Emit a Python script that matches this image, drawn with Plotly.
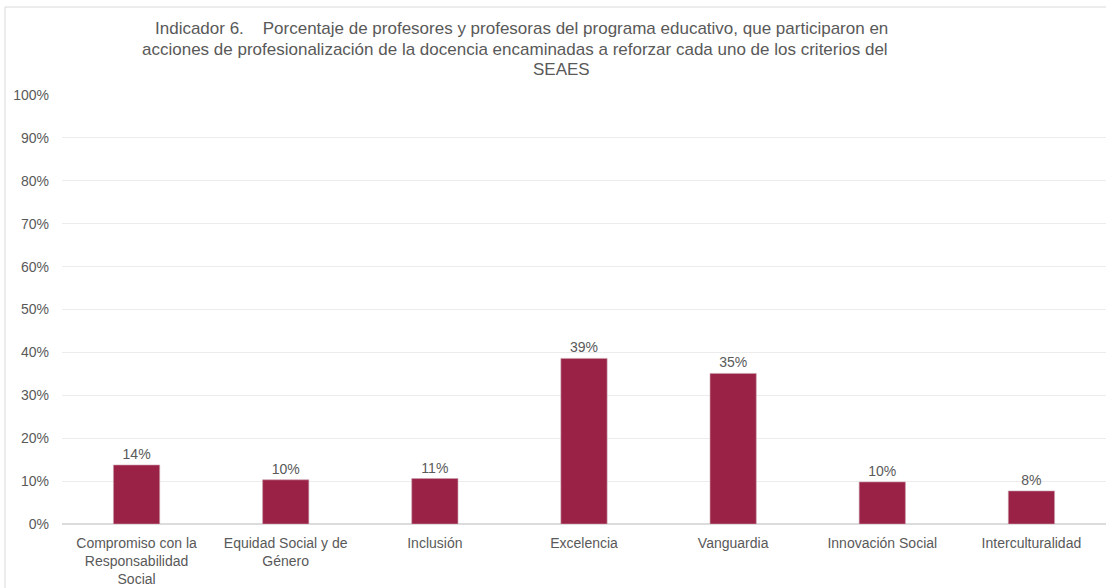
import plotly.graph_objects as go

# Indicador 6 - porcentaje de profesores por criterio SEAES
categorias = [
    "Compromiso con la<br>Responsabilidad<br>Social",
    "Equidad Social y de<br>Género",
    "Inclusión",
    "Excelencia",
    "Vanguardia",
    "Innovación Social",
    "Interculturalidad",
]
porcentajes = [0.1375, 0.103, 0.106, 0.386, 0.351, 0.098, 0.077]
ticks_y = [0, 0.1, 0.2, 0.3, 0.4, 0.5, 0.6, 0.7, 0.8, 0.9, 1.0]

titulo_lineas = [
    "Indicador 6.    Porcentaje de profesores y profesoras del programa educativo, que participaron en",
    "acciones de profesionalización de la docencia encaminadas a reforzar cada uno de los criterios del",
    "SEAES",
]

W, H = 1106, 588
L, R, T, B = 62, 0, 95, 64
gris = "#595959"

fig = go.Figure(
    go.Bar(
        x=categorias, y=porcentajes,
        marker=dict(color="#9b2247", line=dict(color="#c9a0ad", width=0.6)),
        width=0.31,
        text=porcentajes, texttemplate="%{y:.0%}", textposition="outside",
        textfont=dict(size=14, color=gris), cliponaxis=False,
    )
)


def px_x(v):
    return (v - L) / (W - L - R)


def px_y(v):
    return 1 - (v - T) / (H - T - B)


# titulo en tres lineas, como en el original
for linea, cx, cy in zip(titulo_lineas, [521, 515, 561], [28, 49, 69.5]):
    fig.add_annotation(text=linea, x=px_x(cx), y=px_y(cy), xref="paper", yref="paper",
                       xanchor="center", yanchor="middle", showarrow=False,
                       font=dict(size=17, color=gris))

# borde del grafico
fig.add_shape(type="line", xref="paper", yref="paper", x0=px_x(5), x1=px_x(1106),
              y0=px_y(7), y1=px_y(7), line=dict(color="#d9d9d9", width=1))
fig.add_shape(type="line", xref="paper", yref="paper", x0=px_x(5), x1=px_x(5),
              y0=px_y(7), y1=px_y(588), line=dict(color="#d9d9d9", width=1))

fig.update_layout(
    width=W, height=H,
    margin=dict(l=L, r=R, t=T, b=B),
    plot_bgcolor="white", paper_bgcolor="white",
    font=dict(family="Liberation Sans, Arial, sans-serif", size=14, color=gris),
    showlegend=False,
)
fig.update_yaxes(range=[0, 1], tickvals=ticks_y, tickformat=".0%", showgrid=True,
                 gridcolor="#ececec", gridwidth=1, zeroline=True, zerolinecolor="#dcdcdc",
                 ticklabelstandoff=12, tickfont=dict(size=14, color=gris))
fig.update_xaxes(showline=False, tickfont=dict(size=14, color=gris), ticks="",
                 ticklabelstandoff=9)

fig.write_html("out.html", config={"displayModeBar": False},
               post_script="document.body.style.margin='0';")
